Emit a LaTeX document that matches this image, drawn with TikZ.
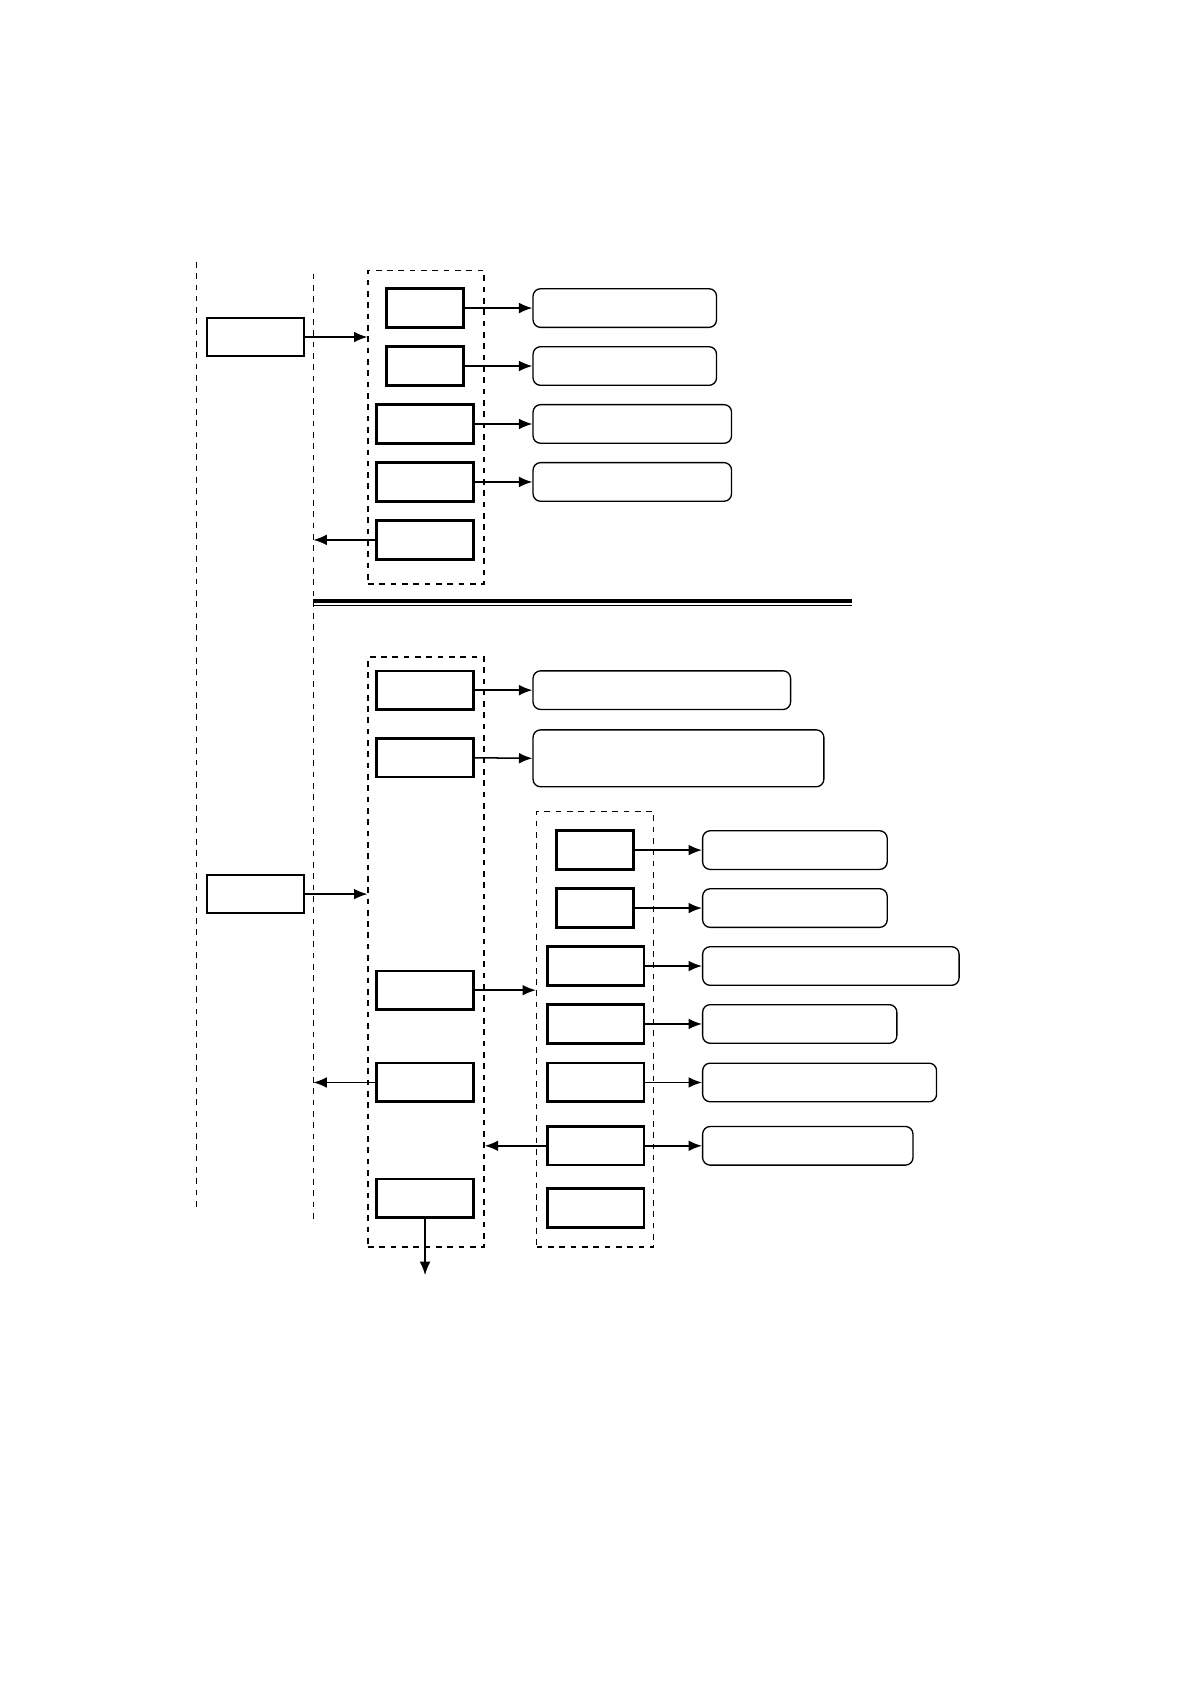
\documentclass[tikz,border=0pt]{standalone}
\usepackage{tikz}
\usetikzlibrary{arrows.meta, positioning}

\begin{document}
\begin{tikzpicture}[x=0.02cm, y=-0.02cm,
  box/.style={draw, rectangle, line width=1.4pt, minimum width=1.8cm, minimum height=0.72cm, inner sep=0pt},
  smallbox/.style={box, minimum width=1.44cm},
  srcbox/.style={box, line width=1.1pt},
  outbox/.style={draw, rectangle, rounded corners=4pt, line width=0.7pt, minimum height=0.72cm, inner sep=0pt, anchor=west},
  group/.style={draw, dashed, line width=0.8pt, inner sep=0pt},
  lane/.style={dashed, line width=0.6pt},
  link/.style={-{Latex[length=2.5mm, width=2mm]}, line width=0.8pt}]
\useasboundingbox (0,0) rectangle (1110,1568);

% lanes
\coordinate (lane1top) at (183,244);
\coordinate (lane1bot) at (183,1125);
\coordinate (lane2top) at (292,255);
\coordinate (lane2bot) at (292,1140);
\draw[lane, line width=0.9pt] (lane1top) -- (lane1bot);
\draw[lane] (lane2top) -- (lane2bot);

% upper part
\node[srcbox] (src1) at (238,314) {};
\node[group, minimum width=2.16cm, minimum height=5.84cm] (grp1) at (397,398) {};
\node[smallbox] (t1) at (396,287) {};
\node[smallbox] (t2) at (396,341) {};
\node[box] (t3) at (396,395) {};
\node[box] (t4) at (396,449) {};
\node[box] (t5) at (396,503) {};
\node[outbox, minimum width=3.42cm] (r1) at (496,287) {};
\node[outbox, minimum width=3.42cm] (r2) at (496,341) {};
\node[outbox, minimum width=3.7cm] (r3) at (496,395) {};
\node[outbox, minimum width=3.7cm] (r4) at (496,449) {};

\draw[link] (src1.east) -- (src1.east -| grp1.west);
\foreach \a/\b in {t1/r1, t2/r2, t3/r3, t4/r4} {
  \draw[link] (\a.east) -- (\b.west);
}
\draw[link] (t5.west) -- (t5.west -| lane2top);

% separator
\coordinate (sepL) at (292,560);
\coordinate (sepR) at (794,560);
\draw[line width=1.9pt] (sepL) -- (sepR);
\draw[line width=0.6pt] ([yshift=-0.09cm]sepL) -- ([yshift=-0.09cm]sepR);

% lower part
\node[srcbox] (src2) at (238,833) {};
\node[group, minimum width=2.16cm, minimum height=11cm] (grp2) at (397,887) {};
\node[box] (b1) at (396,643) {};
\node[box] (b2) at (396,706) {};
\node[box] (b3) at (396,922.5) {};
\node[box] (b4) at (396,1008.5) {};
\node[box] (b5) at (396,1116.5) {};
\node[outbox, minimum width=4.8cm] (o1) at (496,643) {};
\node[outbox, minimum width=5.42cm, minimum height=1.06cm] (o2) at (496,706.5) {};

\node[group, minimum width=2.18cm, minimum height=8.12cm] (grp3) at (554.5,959) {};
\node[smallbox] (c1) at (554.5,792) {};
\node[smallbox] (c2) at (554.5,846) {};
\node[box] (c3) at (555,900) {};
\node[box] (c4) at (555,954) {};
\node[box] (c5) at (555,1008.5) {};
\node[box] (c6) at (555,1067.5) {};
\node[box] (c7) at (555,1125.5) {};
\node[outbox, minimum width=3.44cm] (p1) at (654,792) {};
\node[outbox, minimum width=3.44cm] (p2) at (654,846) {};
\node[outbox, minimum width=4.78cm] (p3) at (654,900) {};
\node[outbox, minimum width=3.62cm] (p4) at (654,954) {};
\node[outbox, minimum width=4.36cm] (p5) at (654,1008.5) {};
\node[outbox, minimum width=3.92cm] (p6) at (654,1067.5) {};
\coordinate (exit) at (396,1188);

\draw[link] (src2.east) -- (src2.east -| grp2.west);
\draw[link] (b1.east) -- (o1.west);
\draw[link] (b2.east) -- (o2.west);
\draw[link] (b3.east) -- (b3.east -| grp3.west);
\draw[link] (b4.west) -- (b4.west -| lane2top);
\foreach \a/\b in {c1/p1, c2/p2, c3/p3, c4/p4, c5/p5, c6/p6} {
  \draw[link] (\a.east) -- (\b.west);
}
\draw[link] (c6.west) -- (c6.west -| grp2.east);
\draw[link] (b5.south) -- (exit);
\end{tikzpicture}
\end{document}
